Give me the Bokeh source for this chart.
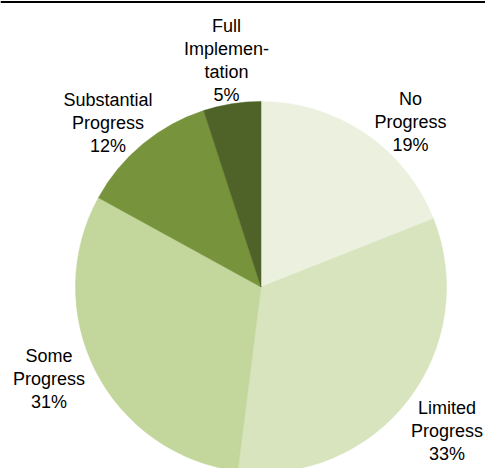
import math
from bokeh.plotting import figure
from bokeh.models import Range1d, ColumnDataSource, Span
from bokeh.core.properties import value
from bokeh.embed import file_html
from bokeh.resources import INLINE

# Data
categories = ["No Progress", "Limited Progress", "Some Progress", "Substantial Progress", "Full Implementation"]
percents = [19, 33, 31, 12, 5]
label_texts = ["No\nProgress\n19%", "Limited\nProgress\n33%", "Some\nProgress\n31%",
               "Substantial\nProgress\n12%", "Full\nImplemen-\ntation\n5%"]
colors = ["#EBF1DE", "#D7E4BD", "#C3D69B", "#77933C", "#4F6228"]

W, H = 485, 468
p = figure(width=W, height=H, output_backend="svg", toolbar_location=None,
           x_range=Range1d(0, W), y_range=Range1d(0, H), min_border=0)
p.axis.visible = False
p.grid.visible = False
p.outline_line_color = None

cx, cy, r = 260.5, 181.5, 185.5
total = sum(percents)
starts, ends = [], []
cum = 0.0
for v in percents:
    starts.append(math.pi / 2 - 2 * math.pi * cum / total)
    cum += v
    ends.append(math.pi / 2 - 2 * math.pi * cum / total)

src = ColumnDataSource(dict(start=starts, end=ends, color=colors, cat=categories))
p.wedge(x=cx, y=cy, radius=r, start_angle="start", end_angle="end", direction="clock",
        fill_color="color", line_color="color", line_width=0.5, source=src)

lx = [410, 446.5, 48.5, 107.5, 226]
ly = [346.5, 37.5, 90, 345.5, 408]
lsrc = ColumnDataSource(dict(x=lx, y=ly, t=label_texts))
p.text(x="x", y="y", text="t", source=lsrc, text_align="center", text_baseline="middle",
       text_font=value("Liberation Sans"), text_font_size="18px", text_color="black",
       text_line_height=1.15)

p.add_layout(Span(location=H - 1.5, dimension="width", line_color="black", line_width=2))

open("out.html", "w").write(file_html(p, INLINE))
